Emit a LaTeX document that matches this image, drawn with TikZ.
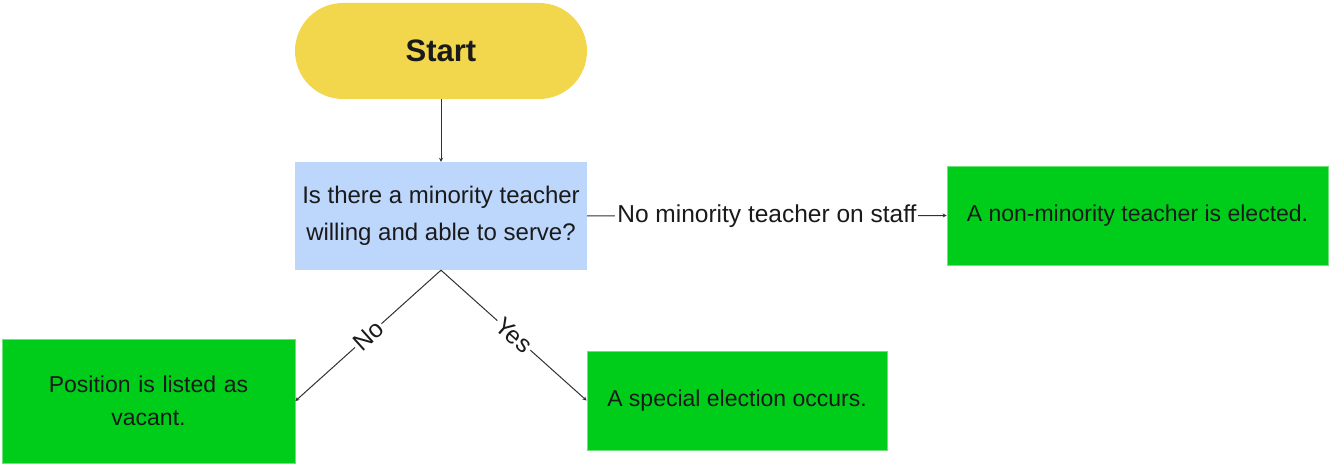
\documentclass[tikz,border=0pt]{standalone}
\usepackage{fontspec}
\setmainfont{Liberation Sans}
\usetikzlibrary{arrows.meta,shapes.misc}
\definecolor{startyellow}{HTML}{F2D64B}
\definecolor{decblue}{HTML}{BCD6FC}
\definecolor{endgreen}{HTML}{00CD1A}
\definecolor{edgegreen}{HTML}{6FE07A}
\definecolor{txt}{HTML}{1A1A1A}
\begin{document}
\begin{tikzpicture}[x=1pt,y=-1pt,
  every node/.style={text=txt, inner sep=0pt, align=center},
  startbox/.style={rounded rectangle, fill=startyellow, minimum width=292pt, minimum height=96pt, font=\fontsize{31}{36}\selectfont\bfseries},
  decbox/.style={rectangle, fill=decblue, minimum width=292pt, minimum height=108pt, font=\fontsize{24}{37}\selectfont},
  endbox/.style={rectangle, fill=endgreen, draw=edgegreen, line width=0.8pt, font=\fontsize{23}{33}\selectfont},
  conn/.style={draw=txt!90, line width=1pt, -{Stealth[length=4pt,width=4pt]}},
  elabel/.style={fill=white, inner sep=2pt, font=\fontsize{24.5}{28}\selectfont}
]
\useasboundingbox (0,0) rectangle (1330,465);
\node[startbox] (start) at (441,51) {Start};
\node[decbox] (dec) at (441,216) {Is there a minority teacher\\willing and able to serve?};
\node[endbox, minimum width=381pt, minimum height=99pt] (nonmin) at (1137.5,215.5) {A non-minority teacher is elected.};
\node[endbox, minimum width=293pt, minimum height=124pt, text width=260pt] (vacant) at (148.5,401) {Position is listed as\\vacant.};
\node[endbox, minimum width=300pt, minimum height=99pt] (special) at (737,400.5) {A special election occurs.};
\draw[conn] (start.south) -- (dec.north);
\draw[conn] (dec.east) -- node[elabel] (lstaff) {No minority teacher on staff} (nonmin.west);
\draw[conn] (dec.south) -- node[elabel, sloped] (lno) {No} (vacant.east);
\draw[conn] (dec.south) -- node[elabel, sloped] (lyes) {Yes} (special.west);
\end{tikzpicture}
\end{document}
